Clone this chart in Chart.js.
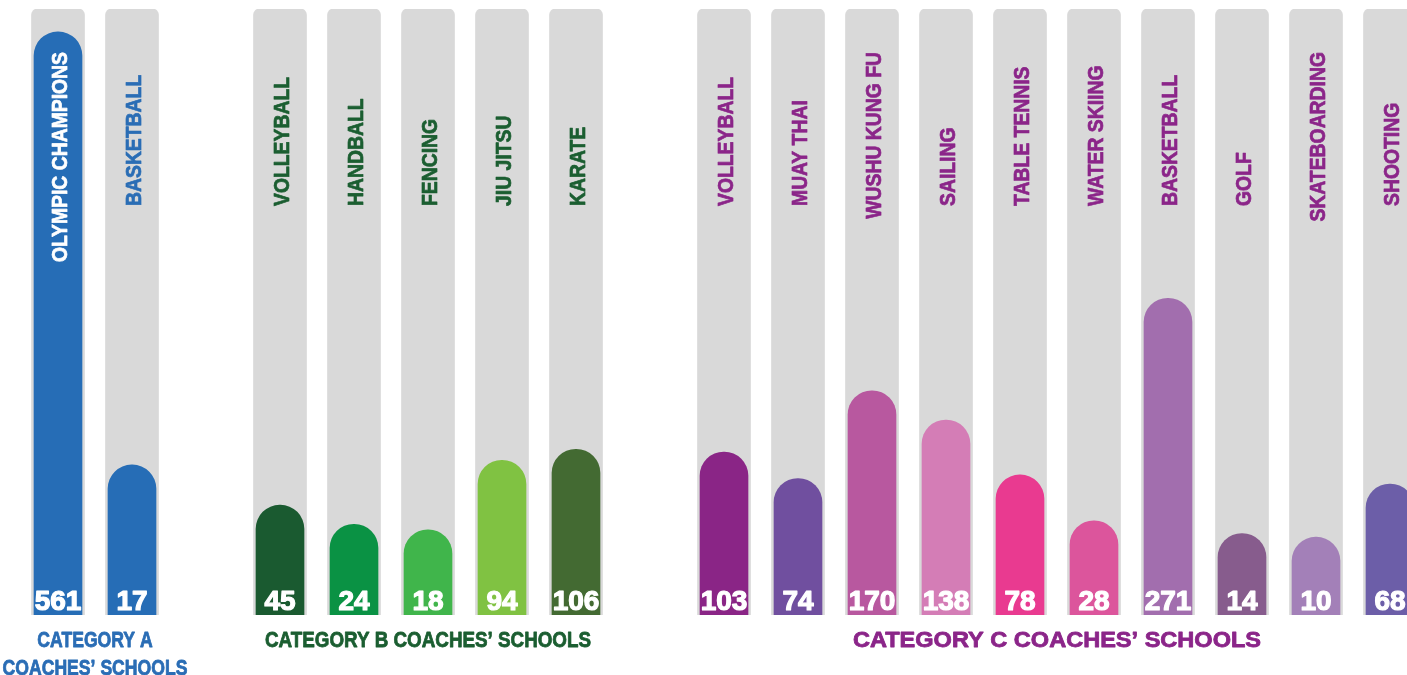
<!DOCTYPE html>
<html>
<head>
<meta charset="utf-8">
<script src="https://cdn.jsdelivr.net/npm/chart.js@4/dist/chart.umd.min.js"></script>
<style>
  html, body { margin: 0; padding: 0; background: #ffffff; overflow: hidden; }
  #wrap { width: 1407px; height: 675px; overflow: hidden; position: relative; }
  #box { width: 1427px; height: 675px; position: absolute; left: 0; top: 0; }
</style>
</head>
<body>
<div id="wrap"><div id="box"><canvas id="c"></canvas></div></div>
<script>
// ---- Data ----
const sportsA = ['OLYMPIC CHAMPIONS', 'BASKETBALL'];
const valuesA = [561, 17];
const sportsB = ['VOLLEYBALL', 'HANDBALL', 'FENCING', 'JIU JITSU', 'KARATE'];
const valuesB = [45, 24, 18, 94, 106];
const sportsC = ['VOLLEYBALL', 'MUAY THAI', 'WUSHU KUNG FU', 'SAILING', 'TABLE TENNIS',
                 'WATER SKIING', 'BASKETBALL', 'GOLF', 'SKATEBOARDING', 'SHOOTING'];
const valuesC = [103, 74, 170, 138, 78, 28, 271, 14, 10, 68];
const groupTitles = [
  ['CATEGORY A', 'COACHES\u2019 SCHOOLS'],
  ['CATEGORY B COACHES\u2019 SCHOOLS'],
  ['CATEGORY C COACHES\u2019 SCHOOLS']
];

// ---- Styles ----
const colorsA = ['#266db6', '#266db6'];
const colorsB = ['#1a5a30', '#0a9244', '#40b54b', '#80c242', '#436a32'];
const colorsC = ['#8a2586', '#704f9f', '#b8589f', '#d47db6', '#e93a90',
                 '#dc559c', '#a26eae', '#875c8d', '#a380b8', '#6c5ea8'];
const titleColors = ['#2a6db5', '#1b5e31', '#8b2589'];
const titleScaleX = [0.8, 0.855, 1.07];
const trackColor = '#d9d9d9';

// main scale (groups B and C) and the separate scale of group A
const yMin = -75, yMax = 587;
const yAMin = -171.5, yAMax = 589.8;

// ---- Build category axis with one empty slot between groups ----
const groups = [
  { names: sportsA, values: valuesA, colors: colorsA, axis: 'yA' },
  { names: sportsB, values: valuesB, colors: colorsB, axis: 'y' },
  { names: sportsC, values: valuesC, colors: colorsC, axis: 'y' }
];
const labels = [];
const slotGroup = [];
const slotInGroup = [];
groups.forEach((g, gi) => {
  if (gi > 0) { labels.push(''); slotGroup.push(-1); slotInGroup.push(-1); }
  g.names.forEach((n, k) => { labels.push(n); slotGroup.push(gi); slotInGroup.push(k); });
});

function seriesFor(filter) {
  return labels.map((_, i) => {
    const gi = slotGroup[i];
    if (gi < 0 || !filter(gi)) return null;
    const g = groups[gi];
    const mn = g.axis === 'yA' ? yAMin : yMin;
    return [mn, g.values[slotInGroup[i]]];
  });
}
function colorsFor() {
  return labels.map((_, i) => {
    const gi = slotGroup[i];
    return gi < 0 ? 'rgba(0,0,0,0)' : groups[gi].colors[slotInGroup[i]];
  });
}

const trackData = labels.map((_, i) => slotGroup[i] < 0 ? null : [yMin, yMax]);

const labelPlugin = {
  id: 'labelPlugin',
  afterDatasetsDraw(chart) {
    const ctx = chart.ctx;
    const xs = chart.scales.x;
    const area = chart.chartArea;
    ctx.save();
    ctx.lineJoin = 'round';
    // rotated sport names (condensed bold)
    const nameScale = 0.88;
    ctx.font = 'bold 22px "Liberation Sans", Arial, sans-serif';
    ctx.lineWidth = 0.7;
    labels.forEach((name, i) => {
      const gi = slotGroup[i];
      if (gi < 0) return;
      const g = groups[gi];
      const x = xs.getPixelForValue(i);
      const w = ctx.measureText(name).width * nameScale;
      const startY = Math.max(206, area.top + 43 + w);
      const ys = chart.scales[g.axis];
      const barTop = ys.getPixelForValue(g.values[slotInGroup[i]]);
      const col = barTop < startY - w ? '#ffffff' : titleColors[gi];
      ctx.fillStyle = col;
      ctx.strokeStyle = col;
      ctx.save();
      ctx.translate(x + 1.5, startY);
      ctx.rotate(-Math.PI / 2);
      ctx.scale(nameScale, 1);
      ctx.textAlign = 'left';
      ctx.textBaseline = 'middle';
      ctx.fillText(name, 0, 1);
      ctx.strokeText(name, 0, 1);
      ctx.restore();
    });
    // values at the foot of each bar
    ctx.font = 'bold 28px "Liberation Sans", Arial, sans-serif';
    ctx.fillStyle = '#ffffff';
    ctx.strokeStyle = '#ffffff';
    ctx.lineWidth = 1.2;
    ctx.textAlign = 'center';
    ctx.textBaseline = 'alphabetic';
    labels.forEach((name, i) => {
      const gi = slotGroup[i];
      if (gi < 0) return;
      const x = xs.getPixelForValue(i);
      const t = String(groups[gi].values[slotInGroup[i]]);
      ctx.fillText(t, x, area.bottom - 5);
      ctx.strokeText(t, x, area.bottom - 5);
    });
    // group titles
    ctx.font = 'bold 22px "Liberation Sans", Arial, sans-serif';
    ctx.textBaseline = 'alphabetic';
    ctx.lineWidth = 0.8;
    groups.forEach((g, gi) => {
      const idx = slotGroup.map((s, i) => s === gi ? i : -1).filter(i => i >= 0);
      const cx = (xs.getPixelForValue(idx[0]) + xs.getPixelForValue(idx[idx.length - 1])) / 2;
      ctx.fillStyle = titleColors[gi];
      ctx.strokeStyle = titleColors[gi];
      groupTitles[gi].forEach((line, li) => {
        ctx.save();
        ctx.translate(cx, area.bottom + 32 + li * 28);
        ctx.scale(titleScaleX[gi], 1);
        ctx.fillText(line, 0, 0);
        ctx.strokeText(line, 0, 0);
        ctx.restore();
      });
    });
    ctx.restore();
  }
};

const barCommon = {
  barThickness: 48,
  grouped: false,
  borderSkipped: false,
  borderRadius: { topLeft: 24, topRight: 24, bottomLeft: 0, bottomRight: 0 }
};

new Chart(document.getElementById('c'), {
  type: 'bar',
  data: {
    labels: labels,
    datasets: [
      Object.assign({
        label: 'Category A',
        data: seriesFor(gi => gi === 0),
        yAxisID: 'yA',
        backgroundColor: colorsFor(),
        order: 0
      }, barCommon),
      Object.assign({
        label: 'Categories B and C',
        data: seriesFor(gi => gi > 0),
        yAxisID: 'y',
        backgroundColor: colorsFor(),
        order: 1
      }, barCommon),
      {
        label: 'Track',
        data: trackData,
        yAxisID: 'y',
        backgroundColor: trackColor,
        barThickness: 53,
        grouped: false,
        borderSkipped: false,
        borderRadius: { topLeft: 6, topRight: 6, bottomLeft: 0, bottomRight: 0 },
        order: 2
      }
    ]
  },
  options: {
    responsive: true,
    maintainAspectRatio: false,
    animation: false,
    layout: { padding: { left: 21, right: 0, top: 9, bottom: 60 } },
    plugins: { legend: { display: false }, tooltip: { enabled: false } },
    scales: {
      x: { display: false, offset: true, grid: { display: false } },
      y: { display: false, min: yMin, max: yMax },
      yA: { display: false, min: yAMin, max: yAMax }
    }
  },
  plugins: [labelPlugin]
});
</script>
</body>
</html>
